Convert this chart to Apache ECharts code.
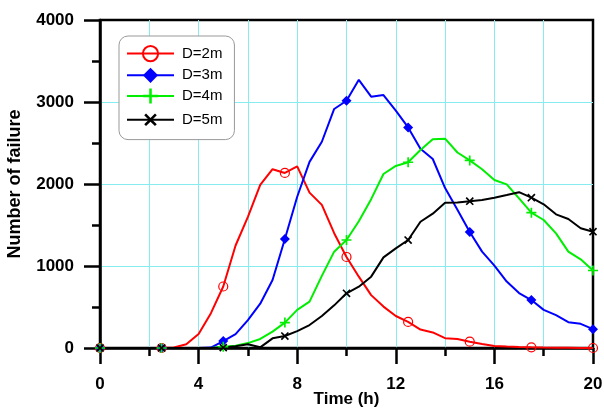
<!DOCTYPE html>
<html>
<head>
<meta charset="utf-8">
<script src="https://cdn.jsdelivr.net/npm/echarts@6/dist/echarts.min.js"></script>
<style>
html,body{margin:0;padding:0;background:#fff;}
#chart{width:604px;height:413px;}
</style>
</head>
<body>
<div id="chart"></div>
<script>
// Time (h)
var times = [0,0.5,1,1.5,2,2.5,3,3.5,4,4.5,5,5.5,6,6.5,7,7.5,8,8.5,9,9.5,10,10.5,11,11.5,12,12.5,13,13.5,14,14.5,15,15.5,16,16.5,17,17.5,18,18.5,19,19.5,20];
var seriesNames = ['D=2m','D=3m','D=4m','D=5m'];
var d2 = [0,0,0,0,0,0,5,45,170,425,750,1250,1600,1990,2180,2135,2215,1895,1745,1400,1110,870,645,505,390,318,225,190,120,110,77,50,25,18,12,8,5,3,2,1,0];
var d3 = [0,0,0,0,0,0,0,0,0,5,85,170,340,540,830,1330,1845,2270,2515,2915,3015,3270,3065,3085,2895,2690,2430,2305,1950,1685,1415,1175,1005,810,670,585,465,400,315,295,230];
var d4 = [0,0,0,0,0,0,0,0,0,0,15,28,60,110,200,310,465,565,880,1175,1317,1545,1815,2122,2220,2265,2415,2545,2553,2384,2288,2180,2049,1996,1825,1650,1561,1398,1175,1081,945];
var d5 = [0,0,0,0,0,0,0,0,0,0,5,20,45,8,118,146,205,280,390,520,667,748,870,1105,1215,1317,1540,1638,1772,1775,1790,1805,1833,1866,1900,1833,1752,1630,1573,1460,1418];
var xTicks = [0,4,8,12,16,20];
var yTicks = [0,1000,2000,3000,4000];

var markerEvery = 5;
function build(vals){
  return vals.map(function(v,i){
    var item = {value:[times[i], v]};
    if (i % markerEvery !== 0) item.symbol = 'none';
    return item;
  });
}
var plusPath = 'path://M-1,-6H1V-1H6V1H1V6H-1V1H-6V-1H-1Z';

var chart = echarts.init(document.getElementById('chart'), null, {renderer:'canvas'});
var font = 'Liberation Sans, Arial, sans-serif';
var cyan = '#86ecf0';
var option = {
  animation:false,
  grid:{left:100,right:11,top:20,bottom:65,containLabel:false,outerBoundsMode:'none',
        show:true,borderColor:'#000',borderWidth:2.5,backgroundColor:'transparent'},
  legend:{
    orient:'vertical', left:119, top:36,
    padding:[9,12,9,7],
    itemWidth:47, itemHeight:19, itemGap:5.5,
    backgroundColor:'#fff', borderColor:'#999', borderWidth:1, borderRadius:9,
    textStyle:{fontFamily:font, fontSize:15, color:'#000', padding:[0,0,0,3]},
    data:seriesNames
  },
  xAxis:{
    type:'value', min:0, max:20, interval:4,
    name:'Time (h)', nameLocation:'middle', nameGap:43, nameMoveOverlap:false,
    nameTextStyle:{fontFamily:font, fontSize:17, fontWeight:'bold', color:'#000'},
    axisLine:{show:true, lineStyle:{color:'#000', width:2.5}},
    axisTick:{show:true, inside:false, length:16, lineStyle:{color:'#000', width:2.5}},
    minorTick:{show:true, splitNumber:2, length:8, lineStyle:{color:'#000', width:2.5}},
    axisLabel:{margin:28, fontFamily:font, fontSize:17, fontWeight:'bold', color:'#000',
      formatter:function(v){return xTicks.indexOf(v)>=0 ? String(v) : '';}},
    splitLine:{show:true, showMinLine:false, showMaxLine:false, lineStyle:{color:cyan, width:1}},
    minorSplitLine:{show:true, lineStyle:{color:cyan, width:1}}
  },
  yAxis:{
    type:'value', min:0, max:4000, interval:1000,
    name:'Number of failure', nameLocation:'middle', nameGap:76, nameMoveOverlap:false,
    nameTextStyle:{fontFamily:font, fontSize:18, fontWeight:'bold', color:'#000'},
    axisLine:{show:true, lineStyle:{color:'#000', width:2.5}},
    axisTick:{show:true, inside:false, length:16, lineStyle:{color:'#000', width:2.5}},
    minorTick:{show:true, splitNumber:2, length:8, lineStyle:{color:'#000', width:2.5}},
    axisLabel:{margin:26, fontFamily:font, fontSize:17, fontWeight:'bold', color:'#000',
      formatter:function(v){return yTicks.indexOf(v)>=0 ? String(v) : '';}},
    splitLine:{show:true, showMinLine:false, showMaxLine:false, lineStyle:{color:cyan, width:1}},
    minorSplitLine:{show:false}
  },
  series:[
    {name:seriesNames[0], type:'line', data:build(d2), symbol:'circle', symbolSize:9,
     lineStyle:{color:'#ff0000', width:2},
     itemStyle:{color:'rgba(255,255,255,0)', borderColor:'#ff0000', borderWidth:1.2}},
    {name:seriesNames[1], type:'line', data:build(d3), symbol:'diamond', symbolSize:10,
     lineStyle:{color:'#0000ff', width:2},
     itemStyle:{color:'#0000ff', borderColor:'#0000ff', borderWidth:0}},
    {name:seriesNames[2], type:'line', data:build(d4), symbol:plusPath, symbolSize:10,
     lineStyle:{color:'#00ee00', width:2},
     itemStyle:{color:'#00ee00', borderWidth:0}},
    {name:seriesNames[3], type:'line', data:build(d5), symbol:plusPath, symbolSize:10, symbolRotate:45,
     lineStyle:{color:'#000000', width:2},
     itemStyle:{color:'#000000', borderWidth:0}}
  ]
};
chart.setOption(option);
</script>
</body>
</html>
